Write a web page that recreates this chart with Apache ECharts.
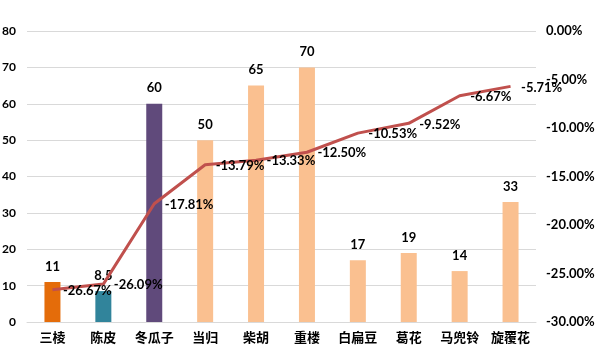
<!DOCTYPE html>
<html><head><meta charset="utf-8">
<script src="https://cdn.jsdelivr.net/npm/echarts@6/dist/echarts.min.js"></script>
<style>html,body{margin:0;padding:0;background:#fff}#c{width:598px;height:361px}</style>
</head><body><div id="c"></div>
<script>
var categories = ['三棱','陈皮','冬瓜子','当归','柴胡','重楼','白扁豆','葛花','马兜铃','旋覆花'];
var barValues = [11, 8.5, 60, 50, 65, 70, 17, 19, 14, 33];
var barColors = ['#E46C0A','#31849B','#604A7B','#FAC090','#FAC090','#FAC090','#FAC090','#FAC090','#FAC090','#FAC090'];
var lineValues = [-26.67, -26.09, -17.81, -13.79, -13.33, -12.50, -10.53, -9.52, -6.67, -5.71];
var leftTicks = {min:0, max:80, interval:10};
var rightTicks = {min:-30, max:0, interval:5};

var font = 'Lato, "Noto Sans CJK SC", sans-serif';
var chart = echarts.init(document.getElementById('c'));
chart.setOption({
  animation:false,
  grid:{left:27, right:62, top:31, bottom:39, containLabel:false, outerBoundsMode:'none'},
  xAxis:{type:'category', data:categories,
    axisLine:{lineStyle:{color:'#D9D9D9'}}, axisTick:{show:false},
    axisLabel:{color:'#000', fontWeight:'bold', fontSize:13, fontFamily:font, margin:9, interval:0}},
  yAxis:[
    {type:'value', min:leftTicks.min, max:leftTicks.max, interval:leftTicks.interval, position:'left',
     splitLine:{lineStyle:{color:'#D9D9D9'}}, axisLine:{show:false}, axisTick:{show:false},
     axisLabel:{color:'#000', fontWeight:'bold', fontSize:12, fontFamily:font, margin:11}},
    {type:'value', min:rightTicks.min, max:rightTicks.max, interval:rightTicks.interval, position:'right',
     splitLine:{show:false}, axisLine:{show:false}, axisTick:{show:false},
     axisLabel:{color:'#000', fontWeight:'bold', fontSize:13, fontFamily:font, margin:10,
       formatter:function(v){return v.toFixed(2)+'%';}}}
  ],
  series:[
    {type:'bar', yAxisIndex:0, barWidth:16,
     data:barValues.map(function(v,i){return {value:v, itemStyle:{color:barColors[i]}};}),
     label:{show:true, position:'top', distance:9, color:'#000', fontWeight:'bold', fontSize:13, fontFamily:font}},
    {type:'line', yAxisIndex:1, data:lineValues, symbol:'circle', symbolSize:1, showSymbol:true,
     itemStyle:{color:'rgba(0,0,0,0)'},
     lineStyle:{color:'#C0504D', width:3},
     label:{show:true, position:'right', distance:10, offset:[0,1], color:'#000', fontWeight:'bold', fontSize:13, fontFamily:font,
       formatter:function(p){return p.value.toFixed(2)+'%';}}}
  ]
});
</script></body></html>
